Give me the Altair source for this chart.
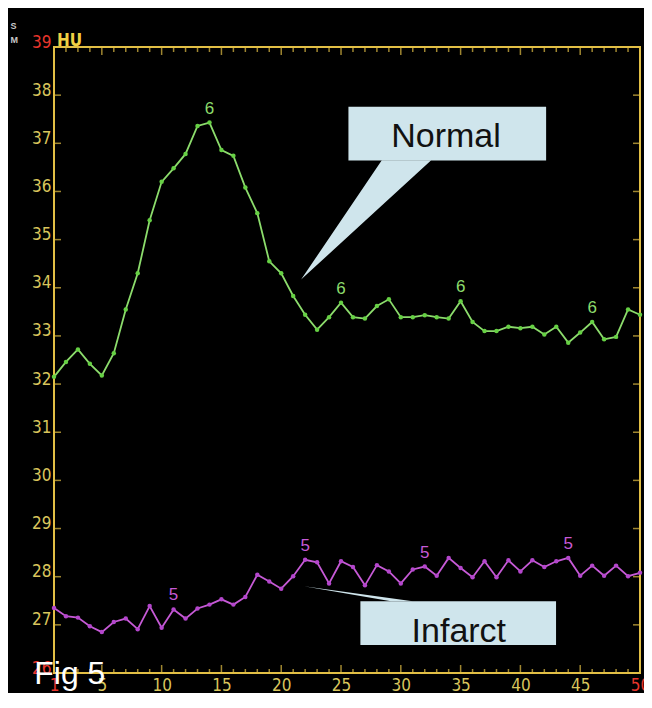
import altair as alt
import pandas as pd

# ---------------- data ----------------
x_vals = list(range(1, 51))
normal_hu = [32.15, 32.46, 32.72, 32.42, 32.18, 32.64, 33.55, 34.30, 35.40, 36.20,
             36.48, 36.78, 37.36, 37.43, 36.86, 36.74, 36.08, 35.55, 34.55, 34.30,
             33.83, 33.44, 33.13, 33.39, 33.69, 33.39, 33.36, 33.62, 33.76, 33.39,
             33.39, 33.43, 33.39, 33.36, 33.72, 33.29, 33.10, 33.10, 33.19, 33.16,
             33.19, 33.03, 33.19, 32.86, 33.07, 33.29, 32.93, 32.98, 33.55, 33.44]
infarct_hu = [27.35, 27.18, 27.15, 26.97, 26.85, 27.06, 27.13, 26.91, 27.39, 26.94,
              27.32, 27.13, 27.34, 27.42, 27.53, 27.42, 27.58, 28.04, 27.90, 27.75,
              28.01, 28.35, 28.30, 27.86, 28.32, 28.20, 27.82, 28.24, 28.11, 27.86,
              28.15, 28.21, 28.02, 28.39, 28.18, 27.99, 28.32, 27.99, 28.34, 28.11,
              28.34, 28.20, 28.32, 28.39, 28.02, 28.23, 28.02, 28.23, 28.01, 28.08]
normal_marker_x = [14, 25, 35, 46]
infarct_marker_x = [11, 22, 32, 44]
normal_marker_label = "6"
infarct_marker_label = "5"

y_tick_labels = list(range(26, 40))
x_tick_labels = [1, 5, 10, 15, 20, 25, 30, 35, 40, 45, 50]
side_y_ticks = list(range(27, 39))
minor_x_ticks = [v for v in range(2, 50) if v % 5]
major_x_ticks = [5, 10, 15, 20, 25, 30, 35, 40, 45]

# annotation geometry in data units (x = time, y = HU)
normal_box = {"x": 25.62, "x2": 42.15, "y": 36.644, "y2": 37.76}
normal_text = {"x": 33.78, "y": 36.93, "text": "Normal"}
normal_pointer = [(21.66, 34.17), (28.41, 36.65), (32.54, 36.65)]
infarct_box = {"x": 26.62, "x2": 42.98, "y": 26.58, "y2": 27.49}
infarct_text = {"x": 34.85, "y": 26.64, "text": "Infarct"}
infarct_pointer = [(21.9, 27.80), (29.18, 27.49), (31.0, 27.49)]
fig_label = {"x": -0.65, "y": 25.78, "text": "Fig 5"}
hu_label = {"x": 1, "y": 39, "text": "HU"}
corner_labels = [{"x": -2.64, "y": 39.43, "text": "S"}, {"x": -2.64, "y": 39.14, "text": "M"}]

# ---------------- style ----------------
BG = "#000000"
GOLD = "#e2bf45"
YELLOW = "#d9c55c"
RED = "#e8352c"
GREEN_LINE = "#8cdc6c"
GREEN_PT = "#66d044"
MAG_LINE = "#c65ad6"
MAG_PT = "#b446cc"
BOX = "#cfe5ec"
NARROW = "'Liberation Sans Narrow', 'DejaVu Sans Condensed', sans-serif"
SANS = "'Liberation Sans', Arial, sans-serif"

xs = alt.Scale(domain=[1, 50], nice=False, zero=False)
ys = alt.Scale(domain=[26, 39], nice=False, zero=False)

xaxis = alt.Axis(values=x_tick_labels, title=None, grid=False, domain=False, ticks=False,
                 tickSize=0, labelPadding=4, labelFlush=False, labelOverlap=False,
                 labelFont=NARROW, labelFontSize=17, labelBaseline="top",
                 labelColor={"condition": {"test": "datum.value == 1 || datum.value == 50",
                                           "value": RED}, "value": YELLOW})
yaxis = alt.Axis(values=y_tick_labels, title=None, grid=False, domain=False, ticks=False,
                 tickSize=0, labelPadding=3, labelFlush=False, labelOverlap=False,
                 labelFont=NARROW, labelFontSize=17, labelBaseline="alphabetic",
                 labelColor={"condition": {"test": "datum.value == 39 || datum.value == 26",
                                           "value": RED}, "value": YELLOW})


def X(field):
    return alt.X(field, type="quantitative", scale=xs, axis=xaxis)


def Y(field):
    return alt.Y(field, type="quantitative", scale=ys, axis=yaxis)


def XD(v):
    return alt.XDatum(v, type="quantitative", scale=xs, axis=xaxis)


def YD(v):
    return alt.YDatum(v, type="quantitative", scale=ys, axis=yaxis)


def tri_area(verts):
    tip, a, b = verts
    base = a[1]
    interp = tip[1] + (a[0] - tip[0]) / (b[0] - tip[0]) * (b[1] - tip[1])
    return pd.DataFrame({
        "x": [tip[0], a[0], b[0]],
        "lo": [tip[1], min(base, interp), base],
        "hi": [tip[1], max(base, interp), base],
    })


normal_df = pd.DataFrame({"x": x_vals, "hu": normal_hu})
infarct_df = pd.DataFrame({"x": x_vals, "hu": infarct_hu})
normal_mk = normal_df[normal_df["x"].isin(normal_marker_x)].assign(t=normal_marker_label)
infarct_mk = infarct_df[infarct_df["x"].isin(infarct_marker_x)].assign(t=infarct_marker_label)

layers = []

layers.append(alt.Chart(normal_df).mark_line(color=GREEN_LINE, strokeWidth=1.8).encode(
    x=X("x"), y=Y("hu")))
layers.append(alt.Chart(infarct_df).mark_line(color=MAG_LINE, strokeWidth=1.8).encode(
    x=X("x"), y=Y("hu")))
layers.append(alt.Chart(normal_df).mark_circle(color=GREEN_PT, size=20, opacity=1).encode(
    x=X("x"), y=Y("hu")))
layers.append(alt.Chart(infarct_df).mark_circle(color=MAG_PT, size=20, opacity=1).encode(
    x=X("x"), y=Y("hu")))
layers.append(alt.Chart(normal_mk).mark_text(color=GREEN_LINE, font=SANS, fontSize=17,
                                              baseline="bottom", dy=-5).encode(
    x=X("x"), y=Y("hu"), text="t:N"))
layers.append(alt.Chart(infarct_mk).mark_text(color=MAG_LINE, font=SANS, fontSize=17,
                                               baseline="bottom", dy=-5).encode(
    x=X("x"), y=Y("hu"), text="t:N"))

# inward ticks
side_df = pd.DataFrame({"v": side_y_ticks})
layers.append(alt.Chart(side_df).mark_tick(orient="horizontal", size=7, thickness=1.5,
                                           xOffset=3.5, color=GOLD).encode(x=XD(1), y=Y("v")))
layers.append(alt.Chart(side_df).mark_tick(orient="horizontal", size=7, thickness=1.5,
                                           xOffset=-3.5, color=GOLD).encode(x=XD(50), y=Y("v")))
minor_df = pd.DataFrame({"v": minor_x_ticks})
major_df = pd.DataFrame({"v": major_x_ticks})
layers.append(alt.Chart(minor_df).mark_tick(orient="vertical", size=4, thickness=1.5,
                                            yOffset=-2, color=GOLD).encode(x=X("v"), y=YD(26)))
layers.append(alt.Chart(major_df).mark_tick(orient="vertical", size=8, thickness=1.5,
                                            yOffset=-4, color=GOLD).encode(x=X("v"), y=YD(26)))
layers.append(alt.Chart(minor_df).mark_tick(orient="vertical", size=5, thickness=1.5,
                                            yOffset=2.5, color=GOLD).encode(x=X("v"), y=YD(39)))
layers.append(alt.Chart(major_df).mark_tick(orient="vertical", size=8, thickness=1.5,
                                            yOffset=4, color=GOLD).encode(x=X("v"), y=YD(39)))

# HU unit label and corner letters
layers.append(alt.Chart(pd.DataFrame([hu_label])).mark_text(
    color="#f0d044", font=NARROW, fontSize=17, fontWeight="bold", align="left",
    baseline="alphabetic", dx=3, dy=-1).encode(x=X("x"), y=Y("y"), text="text:N"))
layers.append(alt.Chart(pd.DataFrame(corner_labels)).mark_text(
    color="#c8c8c8", font=SANS, fontSize=9, fontWeight="bold", align="left",
    baseline="middle").encode(x=X("x"), y=Y("y"), text="text:N"))

# callouts
for box, txt, ptr in [(normal_box, normal_text, normal_pointer),
                      (infarct_box, infarct_text, infarct_pointer)]:
    layers.append(alt.Chart(tri_area(ptr)).mark_area(color=BOX, opacity=1).encode(
        x=X("x"), y=Y("lo"), y2="hi"))
    layers.append(alt.Chart(pd.DataFrame([box])).mark_rect(color=BOX, opacity=1).encode(
        x=X("x"), x2="x2", y=Y("y"), y2="y2"))
    layers.append(alt.Chart(pd.DataFrame([txt])).mark_text(
        color="#111111", font=SANS, fontSize=34, align="center", baseline="alphabetic").encode(
        x=X("x"), y=Y("y"), text="text:N"))

# figure label
layers.append(alt.Chart(pd.DataFrame([fig_label])).mark_text(
    color="#ffffff", font=SANS, fontSize=32, align="left", baseline="alphabetic").encode(
    x=X("x"), y=Y("y"), text="text:N"))

chart = alt.layer(*layers).properties(
    width=586, height=626,
    background=BG,
    autosize=alt.AutoSizeParams(type="none"),
    padding={"left": 46, "top": 39, "right": 4, "bottom": 20},
).configure_view(stroke=GOLD, strokeWidth=2)

chart.save("out.html", embed_options={"renderer": "svg", "actions": False})
